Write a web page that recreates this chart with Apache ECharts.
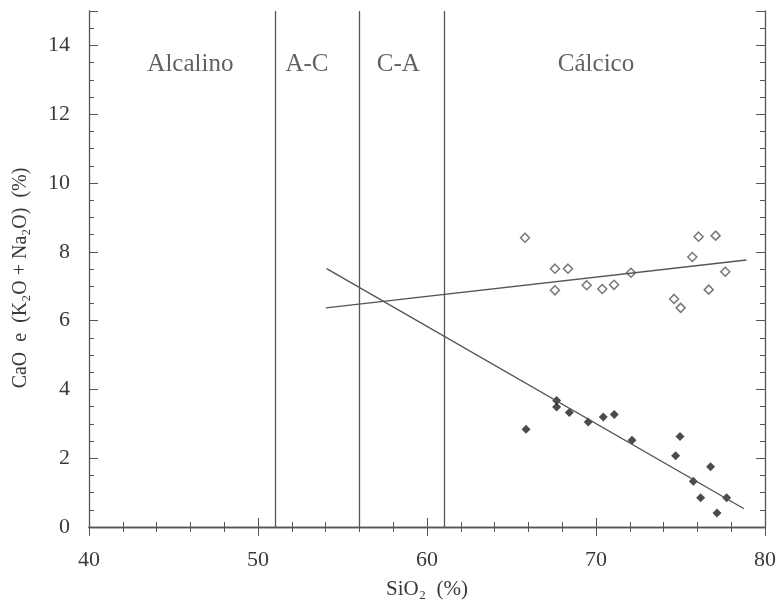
<!DOCTYPE html>
<html>
<head>
<meta charset="utf-8">
<script src="https://cdn.jsdelivr.net/npm/echarts@6/dist/echarts.min.js"></script>
<style>html,body{margin:0;padding:0;background:#fff}#c{width:782px;height:606px}</style>
</head>
<body>
<div id="c"></div>
<script>
// SiO2 (%) and CaO (%) – open diamonds
const caoSiO2 = [65.8, 67.57, 68.34, 67.57, 69.45, 70.37, 71.07, 72.07, 76.07, 77.08, 75.70, 77.65, 76.67, 74.62, 75.01];
const caoVals = [8.41, 7.51, 7.51, 6.88, 7.03, 6.92, 7.04, 7.39, 8.44, 8.47, 7.85, 7.42, 6.90, 6.63, 6.37];
// SiO2 (%) and K2O+Na2O (%) – filled diamonds
const alkSiO2 = [65.86, 67.67, 67.67, 68.42, 69.54, 70.43, 71.08, 72.13, 74.97, 74.71, 76.78, 75.76, 76.19, 77.73, 77.16];
const alkVals = [2.84, 3.68, 3.49, 3.33, 3.05, 3.20, 3.27, 2.52, 2.63, 2.07, 1.75, 1.33, 0.85, 0.85, 0.41];
// regression lines (endpoints)
const caoFitX = [54.02, 78.9];
const caoFitY = [6.37, 7.76];
const alkFitX = [54.06, 78.76];
const alkFitY = [7.51, 0.53];
// field boundaries (SiO2 %)
const boundaries = [51, 56, 61];
// field names and their anchor in data units
const fieldNames = ['Alcalino', 'A-C', 'C-A', 'Cálcico'];
const fieldX = [46.0, 52.9, 58.3, 70.0];
const fieldY = [13.45, 13.45, 13.45, 13.45];
// axis ticks
const xTicks = [40, 50, 60, 70, 80];
const yTicks = [0, 2, 4, 6, 8, 10, 12, 14];

const FONT = '"Liberation Serif", "DejaVu Serif", serif';
const TXT = '#3a3a3a';
const LINE = '#555';

const zip = (a, b) => a.map((v, i) => [v, b[i]]);

const chart = echarts.init(document.getElementById('c'));
function tick(len) { return { show: true, inside: true, length: len, lineStyle: { color: LINE, width: 1 } }; }
function minor(len, n) { return { show: true, splitNumber: n, length: len, lineStyle: { color: LINE, width: 1 } }; }
const axisLine = { show: true, lineStyle: { color: LINE, width: 1.3 } };
chart.setOption({
  animation: false,
  backgroundColor: '#fff',
  grid: { left: 89, right: 17, top: 11, bottom: 79 },
  xAxis: [
    {
      type: 'value', min: 40, max: 80, interval: 10, position: 'bottom',
      axisLine, axisTick: tick(9), minorTick: minor(5, 5), splitLine: { show: false },
      axisLabel: { color: TXT, fontFamily: FONT, fontSize: 22, margin: 22,
        formatter: v => xTicks.includes(v) ? String(v) : '' },
      name: 'SiO₂  (%)', nameLocation: 'middle', nameGap: 52,
      nameTextStyle: { color: TXT, fontFamily: FONT, fontSize: 21 }
    },
    {
      type: 'value', min: 40, max: 80, interval: 10, position: 'top',
      axisLine, axisTick: tick(9), minorTick: minor(5, 5), splitLine: { show: false },
      axisLabel: { show: false }
    }
  ],
  yAxis: [
    {
      type: 'value', min: 0, max: 15, interval: 2, position: 'left',
      axisLine, axisTick: tick(9), minorTick: minor(5, 4), splitLine: { show: false },
      axisLabel: { color: TXT, fontFamily: FONT, fontSize: 22, margin: 19, showMaxLabel: false,
        formatter: v => yTicks.includes(v) ? String(v) : '' },
      name: 'CaO  e  (K₂O + Na₂O)  (%)', nameLocation: 'middle', nameGap: 58,
      nameTextStyle: { color: TXT, fontFamily: FONT, fontSize: 20, padding: [0, 18, 0, 0] }
    },
    {
      type: 'value', min: 0, max: 15, interval: 2, position: 'right',
      axisLine, axisTick: tick(9), minorTick: minor(5, 4), splitLine: { show: false },
      axisLabel: { show: false }
    }
  ],
  series: [
    {
      type: 'line', name: 'boundaries', data: [], silent: true,
      markLine: {
        symbol: 'none', silent: true, label: { show: false },
        lineStyle: { color: LINE, width: 1.3, type: 'solid' },
        data: boundaries.map(b => ({ xAxis: b }))
      }
    },
    {
      type: 'line', name: 'CaO fit', data: zip(caoFitX, caoFitY), symbol: 'none',
      lineStyle: { color: LINE, width: 1.4 }, silent: true
    },
    {
      type: 'line', name: 'Alk fit', data: zip(alkFitX, alkFitY), symbol: 'none',
      lineStyle: { color: LINE, width: 1.4 }, silent: true
    },
    {
      type: 'scatter', name: 'CaO', data: zip(caoSiO2, caoVals), symbol: 'diamond', symbolSize: 9,
      itemStyle: { color: '#fff', borderColor: '#555', borderWidth: 1.5 }
    },
    {
      type: 'scatter', name: 'K2O+Na2O', data: zip(alkSiO2, alkVals), symbol: 'diamond', symbolSize: 9,
      itemStyle: { color: '#1e1e1e' }
    },
    {
      type: 'scatter', name: 'fields', silent: true, symbolSize: 0,
      data: fieldNames.map((n, i) => ({ value: [fieldX[i], fieldY[i]], name: n })),
      label: { show: true, position: 'inside', formatter: p => p.name,
        color: TXT, fontFamily: FONT, fontSize: 25 }
    }
  ]
});
</script>
</body>
</html>
